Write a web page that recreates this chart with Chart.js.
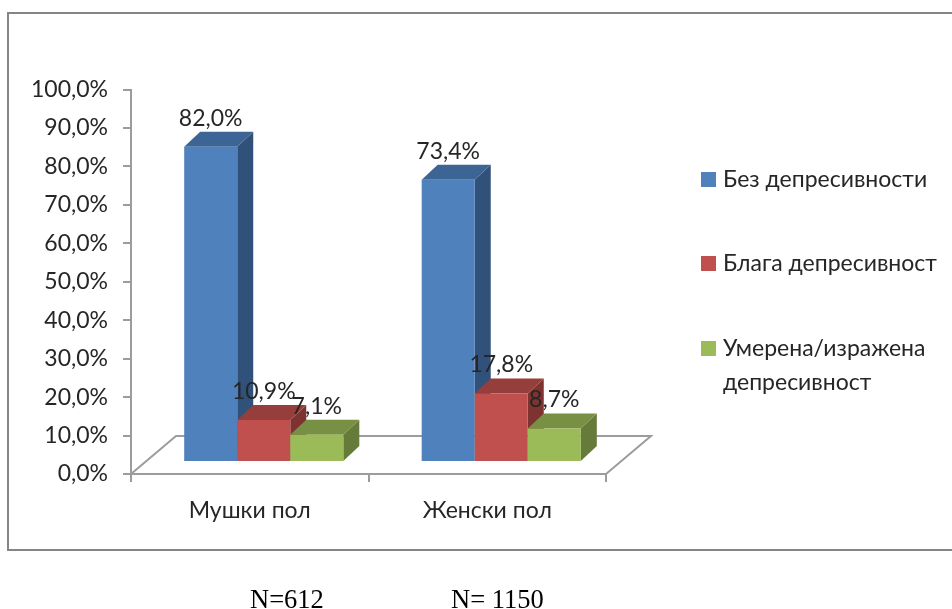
<!DOCTYPE html>
<html><head><meta charset="utf-8">
<style>html,body{margin:0;padding:0;background:#fff}#w{position:relative;width:952px;height:609px}canvas{display:block}</style>
<script src="https://cdn.jsdelivr.net/npm/chart.js@4/dist/chart.umd.min.js"></script>
</head><body><div id="w"><canvas id="c" width="952" height="609"></canvas></div>
<script>
const categories = ['Мушки пол', 'Женски пол'];
const noDepression = [82.0, 73.4];
const mildDepression = [10.9, 17.8];
const moderateDepression = [7.1, 8.7];
const seriesNames = ['Без депресивности', 'Блага депресивност', ['Умерена/изражена', 'депресивност']];
const sampleNotes = ['N=612', 'N= 1150'];
const front = ['#4f81bd', '#c0504d', '#9bbb59'];
const topFace = ['#3c6494', '#953e3b', '#789043'];
const sideFace = ['#30527a', '#7e3330', '#667b39'];
const GREY = '#9c9c9c', INK = '#262626', FONT = 'Lato', SIZE = 23;
const DX = 16, DY = 15, SHIFT_X = 14, SHIFT_Y = -12;
const fmt = v => v.toFixed(1).replace('.', ',') + '%';

function poly(ctx, pts, fill) {
  ctx.beginPath();
  pts.forEach((p, i) => i ? ctx.lineTo(p[0], p[1]) : ctx.moveTo(p[0], p[1]));
  ctx.closePath();
  ctx.fillStyle = fill;
  ctx.fill();
}

const scene = {
  id: 'scene',
  beforeDraw(chart) {
    const ctx = chart.ctx;
    ctx.save();
    ctx.strokeStyle = '#858585';
    ctx.lineWidth = 2;
    ctx.beginPath();
    ctx.moveTo(970, 13); ctx.lineTo(8, 13); ctx.lineTo(8, 550); ctx.lineTo(970, 550);
    ctx.stroke();
    ctx.restore();
  },
  beforeDatasetDraw() { return false; },
  afterDatasetsDraw(chart) {
    const ctx = chart.ctx, a = chart.chartArea;
    // floor
    ctx.save();
    ctx.strokeStyle = GREY;
    ctx.lineWidth = 2;
    ctx.beginPath();
    ctx.moveTo(a.left, a.bottom);
    ctx.lineTo(a.left + 45, a.bottom - 38);
    ctx.lineTo(a.right + 45, a.bottom - 38);
    ctx.lineTo(a.right, a.bottom);
    ctx.stroke();
    ctx.restore();
    // bars, left to right
    ctx.save();
    ctx.translate(SHIFT_X, SHIFT_Y);
    chart.data.datasets.forEach((ds, d) => {
      chart.getDatasetMeta(d).data.forEach(el => {
        const p = el.getProps(['x', 'y', 'base', 'width'], true);
        const l = p.x - p.width / 2, r = p.x + p.width / 2;
        poly(ctx, [[r, p.y], [r + DX, p.y - DY], [r + DX, p.base - DY], [r, p.base]], sideFace[d]);
        poly(ctx, [[l, p.y], [l + DX, p.y - DY], [r + DX, p.y - DY], [r, p.y]], topFace[d]);
        el.draw(ctx);
      });
    });
    // value labels
    ctx.fillStyle = INK;
    ctx.font = SIZE + 'px ' + FONT;
    ctx.textAlign = 'center';
    ctx.textBaseline = 'middle';
    chart.data.datasets.forEach((ds, d) => {
      chart.getDatasetMeta(d).data.forEach((el, i) => {
        const p = el.getProps(['x', 'y'], true);
        ctx.fillText(fmt(ds.data[i]), p.x, p.y - 28.5);
      });
    });
    ctx.restore();
    // legend
    ctx.save();
    ctx.font = SIZE + 'px ' + FONT;
    ctx.textAlign = 'left';
    ctx.textBaseline = 'middle';
    const rows = [[180, 264, 349], 701, 723];
    seriesNames.forEach((name, i) => {
      const y = rows[0][i];
      ctx.fillStyle = front[i];
      ctx.fillRect(rows[1], y - 8, 15, 15);
      ctx.fillStyle = INK;
      [].concat(name).forEach((t, k) => ctx.fillText(t, rows[2], y + k * 34));
    });
    // sample sizes
    ctx.fillStyle = '#000';
    ctx.font = '26.5px "Liberation Serif"';
    ctx.textBaseline = 'alphabetic';
    ctx.fillText(sampleNotes[0], 250, 608);
    ctx.fillText(sampleNotes[1], 451, 608);
    ctx.restore();
  }
};

new Chart(document.getElementById('c'), {
  type: 'bar',
  data: {
    labels: categories,
    datasets: [noDepression, mildDepression, moderateDepression].map((data, i) => ({
      label: [].concat(seriesNames[i]).join(' '),
      data,
      backgroundColor: front[i],
      borderWidth: 0,
      barPercentage: 1,
      categoryPercentage: 0.67
    }))
  },
  plugins: [scene],
  options: {
    responsive: false,
    animation: false,
    layout: { padding: { left: 0, right: 346, top: 89.5, bottom: 75 } },
    plugins: { legend: { display: false }, tooltip: { enabled: false }, title: { display: false } },
    scales: {
      x: {
        afterFit(s) { s.height = 60; },
        border: { color: GREY, width: 2 },
        grid: { drawOnChartArea: false, drawTicks: true, color: GREY, lineWidth: 2, tickLength: 8 },
        ticks: { color: INK, font: { family: FONT, size: SIZE }, padding: 15, maxRotation: 0, autoSkip: false }
      },
      y: {
        min: 0, max: 100,
        afterFit(s) { s.width = 131; },
        border: { color: GREY, width: 2 },
        grid: { drawOnChartArea: false, drawTicks: true, color: GREY, lineWidth: 2, tickLength: 8 },
        ticks: { stepSize: 10, color: INK, font: { family: FONT, size: SIZE }, padding: 15, callback: v => fmt(v) }
      }
    }
  }
});
</script></body></html>
